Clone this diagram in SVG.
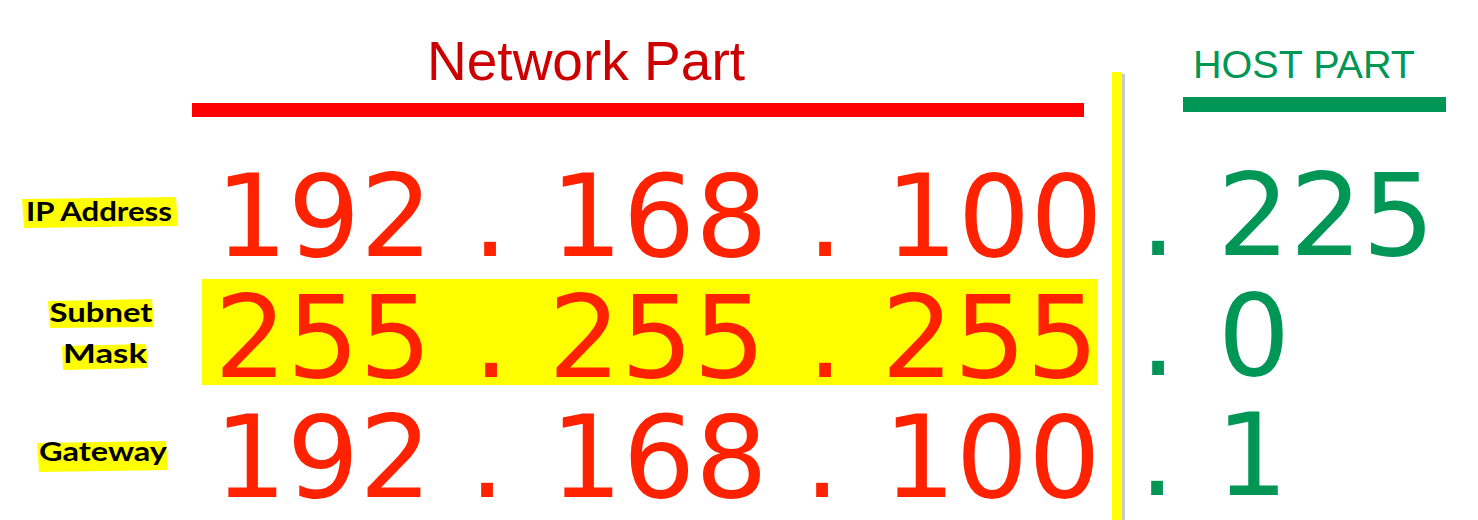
<svg xmlns="http://www.w3.org/2000/svg" width="1478" height="520" viewBox="0 0 1478 520">
<style>
.num{font-family:"DejaVu Sans",Verdana,sans-serif;font-size:114px;text-anchor:middle}
.red{fill:#ff2200}
.grn{fill:#009655}
.lbl{font-family:Lato,"Open Sans",sans-serif;font-weight:bold;font-size:26px;fill:#000}
.hl{fill:#ffff00}
</style>
<rect width="1478" height="520" fill="#ffffff"/>
<g id="network-header">
<text x="586" y="80" font-family="Liberation Sans, Arial, sans-serif" font-size="56" fill="#cc0000" text-anchor="middle" textLength="318" lengthAdjust="spacingAndGlyphs">Network Part</text>
<rect x="192" y="103" width="892" height="14" fill="#ff0000"/>
</g>
<g id="host-header">
<text x="1304" y="78" font-family="Liberation Sans, Arial, sans-serif" font-size="39" fill="#009655" text-anchor="middle" textLength="222" lengthAdjust="spacingAndGlyphs">HOST PART</text>
<rect x="1183" y="97" width="263" height="15" fill="#009655"/>
</g>
<g id="divider">
<rect x="1122" y="74" width="3" height="446" fill="#c8c8c8"/>
<rect x="1112" y="72" width="10" height="448" fill="#ffff00"/>
</g>
<g id="label-ip">
<polygon class="hl" points="22,199 176,197 178,226 24,228"/>
<text class="lbl" x="26" y="221" textLength="146" lengthAdjust="spacingAndGlyphs">IP Address</text>
</g>
<g id="label-mask">
<polygon class="hl" points="48,301 152,299 154,327 50,328"/>
<polygon class="hl" points="62,346 146,344 148,368 63,370"/>
<text class="lbl" x="101" y="322" text-anchor="middle" textLength="103" lengthAdjust="spacingAndGlyphs">Subnet</text>
<text class="lbl" x="105" y="363" text-anchor="middle" textLength="84" lengthAdjust="spacingAndGlyphs">Mask</text>
</g>
<g id="label-gateway">
<polygon class="hl" points="37,443 166,441 168,470 39,472"/>
<text class="lbl" x="103" y="461" text-anchor="middle" textLength="128" lengthAdjust="spacingAndGlyphs">Gateway</text>
</g>
<g id="row-ip">
<text class="num red" x="324" y="256">192</text>
<text class="num red" x="490" y="256">.</text>
<text class="num red" x="659" y="256">168</text>
<text class="num red" x="825" y="256">.</text>
<text class="num red" x="994" y="256">100</text>
<text class="num grn" x="1158" y="255">.</text>
<text class="num grn" x="1326" y="255">225</text>
</g>
<g id="row-mask">
<rect x="202" y="279" width="896" height="106" fill="#ffff00"/>
<text class="num red" x="323" y="377">255</text>
<text class="num red" x="491" y="377">.</text>
<text class="num red" x="657" y="377">255</text>
<text class="num red" x="825" y="377">.</text>
<text class="num red" x="990" y="377">255</text>
<text class="num grn" x="1158" y="375">.</text>
<text class="num grn" x="1254" y="375">0</text>
</g>
<g id="row-gateway">
<text class="num red" x="323" y="497">192</text>
<text class="num red" x="487" y="497">.</text>
<text class="num red" x="659" y="497">168</text>
<text class="num red" x="822" y="497">.</text>
<text class="num red" x="992" y="497">100</text>
<text class="num grn" x="1157" y="495">.</text>
<text class="num grn" x="1252" y="495">1</text>
</g>
</svg>
